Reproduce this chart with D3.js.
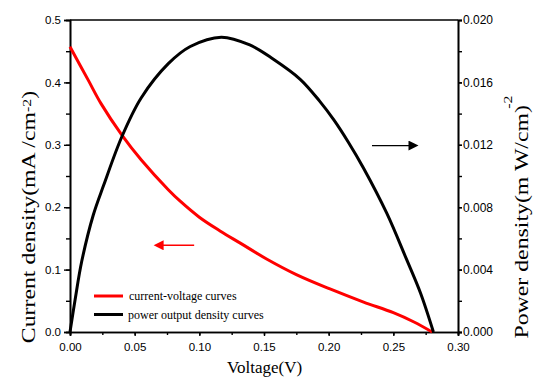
<!DOCTYPE html>
<html>
<head>
<meta charset="utf-8">
<script src="https://cdn.jsdelivr.net/npm/d3@7"></script>
<style>
  body { margin: 0; background: #fff; }
  svg { display: block; font-family: "Liberation Serif", "Times New Roman", serif; }
</style>
</head>
<body>
<div class="chart"></div>
<script>
// current-voltage curve (left axis)
var ivVoltage = [0, 0.014, 0.024, 0.040, 0.055, 0.076, 0.085, 0.100, 0.116, 0.132, 0.152, 0.175, 0.201, 0.227, 0.250, 0.266, 0.280];
var ivCurrent = [0.457, 0.404, 0.366, 0.316, 0.276, 0.228, 0.210, 0.184, 0.162, 0.142, 0.117, 0.092, 0.069, 0.048, 0.031, 0.016, 0.000];

// power density curve (right axis)
var pVoltage = [0, 0.004, 0.009, 0.018, 0.026, 0.040, 0.055, 0.076, 0.093, 0.117, 0.139, 0.157, 0.178, 0.193, 0.204, 0.215, 0.227, 0.245, 0.260, 0.271, 0.281];
var pPower = [0, 0.0021, 0.0045, 0.0075, 0.0094, 0.0125, 0.0150, 0.0172, 0.0183, 0.0189, 0.0184, 0.0175, 0.0162, 0.0148, 0.0136, 0.0122, 0.0105, 0.0076, 0.0047, 0.0025, 0];

var xTicks = [0, 0.05, 0.10, 0.15, 0.20, 0.25, 0.30];
var yLeftTicks = [0, 0.1, 0.2, 0.3, 0.4, 0.5];
var yRightTicks = [0, 0.004, 0.008, 0.012, 0.016, 0.020];
var legendNames = ["current-voltage curves", "power output density curves"];

var W = 550, H = 386;
var m = {top: 20, right: 92, bottom: 54, left: 70};

var svg = d3.select('.chart')
	.append('svg')
	.attr('width', W)
	.attr('height', H);

var x = d3.scaleLinear().domain([0, 0.30]).range([m.left, W - m.right]);
var yL = d3.scaleLinear().domain([0, 0.5]).range([H - m.bottom, m.top]);
var yR = d3.scaleLinear().domain([0, 0.020]).range([H - m.bottom, m.top]);

function styleAxis(size) {
	return function (g) {
		g.select('.domain').attr('stroke', '#000').attr('stroke-width', 1.6);
		g.selectAll('.tick line').attr('stroke', '#000').attr('stroke-width', 1.4);
		g.selectAll('.tick text').style('font-size', size).attr('fill', '#000');
	};
}

// minor ticks first, majors on top
svg.append('g')
	.attr('transform', 'translate(0,' + (H - m.bottom) + ')')
	.call(d3.axisBottom(x).tickValues(d3.range(0, 0.3001, 0.025)).tickSize(3).tickFormat(''))
	.call(styleAxis('11.5px'));
svg.append('g')
	.attr('transform', 'translate(0,' + (H - m.bottom) + ')')
	.call(d3.axisBottom(x).tickValues(xTicks).tickSize(4).tickPadding(7).tickFormat(d3.format('.2f')))
	.call(styleAxis('11.5px'));

svg.append('g')
	.attr('transform', 'translate(' + m.left + ',0)')
	.call(d3.axisLeft(yL).tickValues(d3.range(0, 0.5001, 0.05)).tickSize(4).tickFormat(''))
	.call(styleAxis('11.5px'));
svg.append('g')
	.attr('transform', 'translate(' + m.left + ',0)')
	.call(d3.axisLeft(yL).tickValues(yLeftTicks).tickSize(6).tickPadding(3).tickFormat(d3.format('.1f')))
	.call(styleAxis('11.5px'));

svg.append('g')
	.attr('transform', 'translate(' + (W - m.right) + ',0)')
	.call(d3.axisRight(yR).tickValues(d3.range(0, 0.02001, 0.002)).tickSize(4).tickFormat(''))
	.call(styleAxis('12px'));
svg.append('g')
	.attr('transform', 'translate(' + (W - m.right) + ',0)')
	.call(d3.axisRight(yR).tickValues(yRightTicks).tickSize(4).tickPadding(1).tickFormat(d3.format('.3f')))
	.call(styleAxis('12px'));

// top frame
svg.append('line')
	.attr('x1', m.left).attr('x2', W - m.right)
	.attr('y1', m.top).attr('y2', m.top)
	.attr('stroke', '#000').attr('stroke-width', 1.6);

// curves
var ivLine = d3.line()
	.x(function (d) { return x(d[0]); })
	.y(function (d) { return yL(d[1]); })
	.curve(d3.curveCatmullRom.alpha(0.5));
var pLine = d3.line()
	.x(function (d) { return x(d[0]); })
	.y(function (d) { return yR(d[1]); })
	.curve(d3.curveCatmullRom.alpha(0.5));

svg.append('path')
	.datum(d3.zip(ivVoltage, ivCurrent))
	.attr('d', ivLine)
	.attr('fill', 'none')
	.attr('stroke', '#ff0000')
	.attr('stroke-width', 3);

svg.append('path')
	.datum(d3.zip(pVoltage, pPower))
	.attr('d', pLine)
	.attr('fill', 'none')
	.attr('stroke', '#000')
	.attr('stroke-width', 3);

// arrows pointing to the axes
var defs = svg.append('defs');
[['headR', '#ff0000'], ['headK', '#000']].forEach(function (a) {
	defs.append('marker')
		.attr('id', a[0])
		.attr('viewBox', '0 0 10 10')
		.attr('refX', 1).attr('refY', 5)
		.attr('markerUnits', 'userSpaceOnUse')
		.attr('markerWidth', 11).attr('markerHeight', 10)
		.attr('orient', 'auto')
		.append('path')
		.attr('d', 'M0,0 L10,5 L0,10 Z')
		.attr('fill', a[1]);
});

svg.append('line')
	.attr('x1', x(0.096)).attr('y1', yL(0.139))
	.attr('x2', x(0.0716)).attr('y2', yL(0.139))
	.attr('stroke', '#ff0000').attr('stroke-width', 1.6)
	.attr('marker-end', 'url(#headR)');

svg.append('line')
	.attr('x1', x(0.2335)).attr('y1', yR(0.01195))
	.attr('x2', x(0.2625)).attr('y2', yR(0.01195))
	.attr('stroke', '#000').attr('stroke-width', 1.4)
	.attr('marker-end', 'url(#headK)');

// legend
var legend = svg.append('g').attr('transform', 'translate(94,296)');
var legendColors = ['#ff0000', '#000'];
legendNames.forEach(function (name, i) {
	var row = legend.append('g').attr('transform', 'translate(0,' + (i * 18.5) + ')');
	row.append('line')
		.attr('x1', 0).attr('x2', 29)
		.attr('stroke', legendColors[i]).attr('stroke-width', 3);
	row.append('text')
		.attr('x', 35 - i).attr('y', 4)
		.style('font-size', '12px')
		.text(name);
});

// axis titles
svg.append('text')
	.attr('x', (m.left + W - m.right) / 2 + 0.5)
	.attr('y', 373)
	.attr('text-anchor', 'middle')
	.style('font-size', '17px')
	.text('Voltage(V)');

// the titles in the picture are stretched along their length
var leftTitle = svg.append('text')
	.attr('transform', 'translate(35,217) rotate(-90) scale(1.22,1)')
	.attr('text-anchor', 'middle')
	.style('font-size', '19.5px');
leftTitle.append('tspan').text('Current density(mA /cm');
leftTitle.append('tspan').attr('dy', -4).style('font-size', '13px').text('-2');
leftTitle.append('tspan').attr('dy', 4).text(')');

// here the picture has the bracket first and the raised -2 after it
var rightTitle = svg.append('text')
	.attr('transform', 'translate(528,217) rotate(-90) scale(1.22,1)')
	.attr('text-anchor', 'middle')
	.style('font-size', '19.5px');
rightTitle.append('tspan').text('Power density(m W/cm');
rightTitle.append('tspan').text(')');
rightTitle.append('tspan').attr('dx', -3).attr('dy', -16).style('font-size', '13px').text('-2');
</script>
</body>
</html>
